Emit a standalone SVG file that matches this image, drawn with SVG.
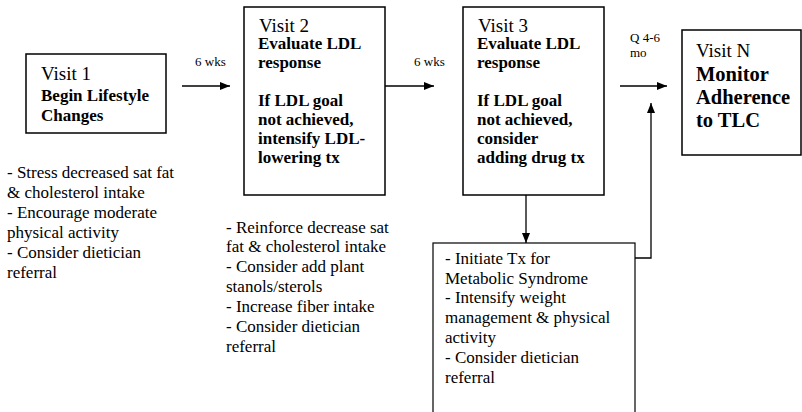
<svg xmlns="http://www.w3.org/2000/svg" width="802" height="412" viewBox="0 0 802 412">
  <defs>
    <marker id="arrow" viewBox="0 0 10 8" refX="10" refY="4" markerWidth="10" markerHeight="8" markerUnits="userSpaceOnUse" orient="auto">
      <path d="M0,0 L10,4 L0,8 Z" fill="#000"/>
    </marker>
  </defs>
  <style>
    text { font-family: 'Liberation Serif', 'Times New Roman', serif; fill: #000; }
    .box { fill: #fff; stroke: #000; stroke-width: 1.5; }
    .note { fill: #fff; stroke: #000; stroke-width: 1.2; }
    .title { font-size: 19px; }
    .bold { font-size: 17px; font-weight: bold; }
    .boldL { font-size: 20.5px; font-weight: bold; }
    .body { font-size: 17px; }
    .lbl { font-size: 13px; }
    .conn { fill: none; stroke: #000; stroke-width: 1.3; }
  </style>

  <!-- connectors and their timing labels -->
  <g id="connectors">
    <line class="conn" x1="182" y1="86" x2="230" y2="86" marker-end="url(#arrow)"/>
    <line class="conn" x1="385" y1="86" x2="434" y2="86" marker-end="url(#arrow)"/>
    <line class="conn" x1="620" y1="86" x2="667" y2="86" marker-end="url(#arrow)"/>
    <line class="conn" x1="526" y1="195" x2="526" y2="243" marker-end="url(#arrow)"/>
    <polyline class="conn" points="635,258 651,258 651,103" marker-end="url(#arrow)"/>
    <text class="lbl" x="195" y="66">6 wks</text>
    <text class="lbl" x="414" y="66">6 wks</text>
    <text class="lbl" x="630" y="42">Q 4-6</text>
    <text class="lbl" x="630" y="57">mo</text>
  </g>

  <!-- Visit 1 -->
  <g id="visit1">
    <rect class="box" x="26" y="54" width="140" height="79"/>
    <text class="title" x="41" y="80">Visit 1</text>
    <text class="bold" x="41" y="101">Begin Lifestyle</text>
    <text class="bold" x="41" y="121">Changes</text>
  </g>

  <!-- Visit 1 advice -->
  <g id="visit1-notes">
    <text class="body" x="7" y="178">- Stress decreased sat fat</text>
    <text class="body" x="7" y="198">&amp; cholesterol intake</text>
    <text class="body" x="7" y="218">- Encourage moderate</text>
    <text class="body" x="7" y="238">physical activity</text>
    <text class="body" x="7" y="258">- Consider dietician</text>
    <text class="body" x="7" y="278">referral</text>
  </g>

  <!-- Visit 2 -->
  <g id="visit2">
    <rect class="box" x="244" y="7" width="141" height="188"/>
    <text class="title" x="259" y="32">Visit 2</text>
    <text class="bold" x="258" y="49">Evaluate LDL</text>
    <text class="bold" x="258" y="68">response</text>
    <text class="bold" x="258" y="106">If LDL goal</text>
    <text class="bold" x="258" y="125">not achieved,</text>
    <text class="bold" x="258" y="144">intensify LDL-</text>
    <text class="bold" x="258" y="163">lowering tx</text>
  </g>

  <!-- Visit 2 advice -->
  <g id="visit2-notes">
    <text class="body" x="226" y="233">- Reinforce decrease sat</text>
    <text class="body" x="226" y="252">fat &amp; cholesterol intake</text>
    <text class="body" x="226" y="272">- Consider add plant</text>
    <text class="body" x="226" y="292">stanols/sterols</text>
    <text class="body" x="226" y="312">- Increase fiber intake</text>
    <text class="body" x="226" y="332">- Consider dietician</text>
    <text class="body" x="226" y="352">referral</text>
  </g>

  <!-- Visit 3 -->
  <g id="visit3">
    <rect class="box" x="463" y="7" width="141" height="188"/>
    <text class="title" x="478" y="32">Visit 3</text>
    <text class="bold" x="477" y="49">Evaluate LDL</text>
    <text class="bold" x="477" y="68">response</text>
    <text class="bold" x="477" y="106">If LDL goal</text>
    <text class="bold" x="477" y="125">not achieved,</text>
    <text class="bold" x="477" y="144">consider</text>
    <text class="bold" x="477" y="163">adding drug tx</text>
  </g>

  <!-- Metabolic syndrome box (runs past the bottom edge) -->
  <g id="metabolic">
    <rect class="note" x="433" y="243" width="202" height="185"/>
    <text class="body" x="445" y="264">- Initiate Tx for</text>
    <text class="body" x="445" y="284">Metabolic Syndrome</text>
    <text class="body" x="445" y="303">- Intensify weight</text>
    <text class="body" x="445" y="323">management &amp; physical</text>
    <text class="body" x="445" y="343">activity</text>
    <text class="body" x="445" y="363">- Consider dietician</text>
    <text class="body" x="445" y="383">referral</text>
  </g>

  <!-- Visit N -->
  <g id="visitN">
    <rect class="box" x="682" y="30" width="119" height="125"/>
    <text class="title" x="696" y="57">Visit N</text>
    <text class="boldL" x="696" y="81">Monitor</text>
    <text class="boldL" x="696" y="104">Adherence</text>
    <text class="boldL" x="696" y="127">to TLC</text>
  </g>
</svg>
